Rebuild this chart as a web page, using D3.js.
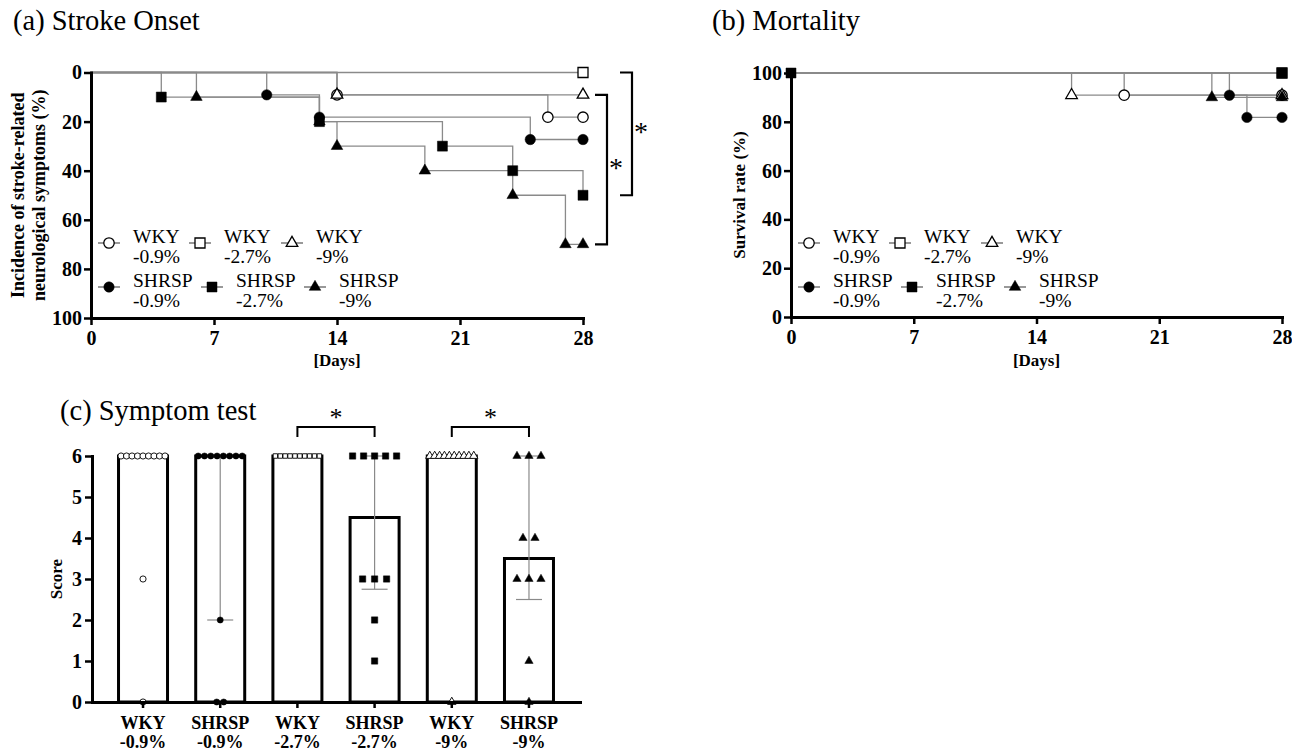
<!DOCTYPE html>
<html>
<head>
<meta charset="utf-8">
<title>Stroke onset, mortality and symptom test</title>
<script src="https://d3js.org/d3.v7.min.js"></script>
<style>
  body { margin: 0; background: #fff; }
  svg { display: block; font-family: "Liberation Serif", "Times New Roman", serif; }
</style>
</head>
<body>
<svg id="svg" width="1292" height="753"></svg>
<script>
// groups (legend order)
var strains = ["WKY", "WKY", "WKY", "SHRSP", "SHRSP", "SHRSP"];
var diets = ["-0.9%", "-2.7%", "-9%", "-0.9%", "-2.7%", "-9%"];
var shapes = ["circle", "square", "triangle", "circle", "square", "triangle"];
var filled = [false, false, false, true, true, true];

// (a) stroke onset: incidence (%) at marked days [day, %]
var onsetWKY09 = [[14, 9.1], [26, 18.2], [28, 18.2]];
var onsetWKY27 = [[28, 0]];
var onsetWKY9 = [[14, 9.1], [28, 9.1]];
var onsetSHR09 = [[10, 9.1], [13, 18.2], [25, 27.3], [28, 27.3]];
var onsetSHR27 = [[4, 10], [13, 20], [20, 30], [24, 40], [28, 50]];
var onsetSHR9 = [[6, 10], [13, 20], [14, 30], [19, 40], [24, 50], [27, 70], [28, 70]];
var onsetData = [onsetWKY09, onsetWKY27, onsetWKY9, onsetSHR09, onsetSHR27, onsetSHR9];
var onsetTicks = [0, 20, 40, 60, 80, 100];
var onsetSig = [[0, 50], [9.1, 70]]; // end values of the * brackets

// (b) mortality: survival (%) at marked days
var survWKY09 = [[19, 90.9], [28, 90.9]];
var survWKY27 = [[28, 100]];
var survWKY9 = [[16, 90.9], [28, 90.9]];
var survSHR09 = [[25, 90.9], [26, 81.8], [28, 81.8]];
var survSHR27 = [[0, 100], [28, 100]];
var survSHR9 = [[24, 90], [28, 90]];
var survData = [survWKY09, survWKY27, survWKY9, survSHR09, survSHR27, survSHR9];
var survTicks = [0, 20, 40, 60, 80, 100];
var dayTicks = [0, 7, 14, 21, 28];

// (c) symptom test scores
var scoreWKY09 = [6, 6, 6, 6, 6, 6, 6, 6, 6, 3, 0];
var scoreSHR09 = [6, 6, 6, 6, 6, 6, 6, 6, 2, 0, 0];
var scoreWKY27 = [6, 6, 6, 6, 6, 6, 6, 6, 6, 6];
var scoreSHR27 = [6, 6, 6, 6, 6, 3, 3, 3, 2, 1];
var scoreWKY9 = [6, 6, 6, 6, 6, 6, 6, 6, 6, 6, 0];
var scoreSHR9 = [6, 6, 6, 4, 4, 3, 3, 3, 1, 0];
var scoreData = [scoreWKY09, scoreSHR09, scoreWKY27, scoreSHR27, scoreWKY9, scoreSHR9];
var scoreOrder = [0, 3, 1, 4, 2, 5]; // legend index of each bar
var scoreMedian = [6, 6, 6, 4.5, 6, 3.5];
var scoreQ1 = [6, 2, 6, 2.75, 6, 2.5];
var scoreQ3 = [6, 6, 6, 6, 6, 6];
var scoreTicks = [0, 1, 2, 3, 4, 5, 6];
var scoreSig = [[2, 3], [4, 5]];

var svg = d3.select("#svg");
var FONT = '"Liberation Serif", "Times New Roman", serif';
var LINE = "#8a8a8a";

var symbolTypes = { circle: d3.symbolCircle, square: d3.symbolSquare, triangle: d3.symbolTriangle };
var kmSizes = { circle: 85, square: 100, triangle: 58 };

function marker(g, shape, isFilled, x, y, size, sw) {
  g.append("path")
    .attr("d", d3.symbol(symbolTypes[shape], size)())
    .attr("transform", "translate(" + x + "," + y + ")")
    .attr("fill", isFilled ? "#000" : "#fff")
    .attr("stroke", "#000")
    .attr("stroke-width", isFilled ? 0.5 : (sw || 1.3));
}

function styleAxis(g) {
  g.attr("font-family", FONT).attr("font-size", 20).attr("font-weight", "bold");
  g.select(".domain").attr("stroke-width", 3).attr("stroke-linecap", "square");
  g.selectAll(".tick line").attr("stroke-width", 2.5);
  g.selectAll(".tick text").attr("fill", "#000");
}

function title(x, y, t) {
  svg.append("text").attr("x", x).attr("y", y).attr("font-size", 28.5).text(t);
}

function legend(x0, y0) {
  var g = svg.append("g");
  var cols = [[18, 109, 201], [18, 121, 224]];
  for (var i = 0; i < 6; i++) {
    var row = filled[i] ? 1 : 0;
    var sx = x0 + cols[row][i % 3], sy = y0 + row * 44;
    g.append("line").attr("x1", sx - 11).attr("x2", sx + 11).attr("y1", sy).attr("y2", sy)
      .attr("stroke", "#555").attr("stroke-width", 1.2);
    marker(g, shapes[i], filled[i], sx, sy, kmSizes[shapes[i]]);
    var t = g.append("text").attr("x", sx + 24).attr("y", sy).attr("font-size", 19.5);
    t.append("tspan").attr("x", sx + 24).attr("y", sy).text(strains[i]);
    t.append("tspan").attr("x", sx + 24).attr("y", sy + 20).text(diets[i]);
  }
}

function kmPanel(xs, ys, data, start, ticks) {
  var g = svg.append("g");
  var line = d3.line().x(function (d) { return xs(d[0]); }).y(function (d) { return ys(d[1]); })
    .curve(d3.curveStepAfter);
  data.forEach(function (pts) {
    g.append("path").attr("d", line([[0, start]].concat(pts)))
      .attr("fill", "none").attr("stroke", LINE).attr("stroke-width", 1.3);
  });
  data.forEach(function (pts, i) {
    pts.forEach(function (p) {
      marker(g, shapes[i], filled[i], xs(p[0]), ys(p[1]), kmSizes[shapes[i]]);
    });
  });
  var ya = svg.append("g").attr("transform", "translate(" + xs(0) + ",0)")
    .call(d3.axisLeft(ys).tickValues(ticks).tickSize(7).tickSizeOuter(0).tickPadding(2));
  styleAxis(ya);
  var xa = svg.append("g").attr("transform", "translate(0," + ys(start === 0 ? 100 : 0) + ")")
    .call(d3.axisBottom(xs).tickValues(dayTicks).tickSize(7).tickSizeOuter(0).tickPadding(6));
  styleAxis(xa);
  svg.append("text").attr("x", (xs(0) + xs(28)) / 2).attr("y", 366)
    .attr("text-anchor", "middle").attr("font-weight", "bold").attr("font-size", 17).text("[Days]");
}

// ---------- (a) Stroke Onset ----------
var xA = d3.scaleLinear().domain([0, 28]).range([91, 583]);
var yA = d3.scaleLinear().domain([0, 100]).range([72.5, 318]);
title(13, 30, "(a) Stroke Onset");
kmPanel(xA, yA, onsetData, 0, onsetTicks);
legend(91, 243);
var yl = svg.append("text").attr("transform", "translate(24," + (72.5 + 318) / 2 + ") rotate(-90)")
  .attr("text-anchor", "middle").attr("font-weight", "bold").attr("font-size", 18);
yl.append("tspan").attr("x", 0).attr("y", 0).text("Incidence of stroke-related");
yl.append("tspan").attr("x", 0).attr("y", 21).text("neurological symptoms (%)");

onsetSig.forEach(function (s, i) {
  var bx = [632, 607][i];
  svg.append("path")
    .attr("d", "M" + (bx - 12) + "," + yA(s[0]) + "H" + bx + "V" + yA(s[1]) + "H" + (bx - 12))
    .attr("fill", "none").attr("stroke", "#000").attr("stroke-width", 2.2);
  svg.append("text").attr("x", bx + 2).attr("y", (yA(s[0]) + yA(s[1])) / 2 + 7)
    .attr("font-size", 28).text("*");
});

// ---------- (b) Mortality ----------
var xB = d3.scaleLinear().domain([0, 28]).range([791, 1282]);
var yB = d3.scaleLinear().domain([0, 100]).range([317, 73]);
title(712, 30, "(b) Mortality");
kmPanel(xB, yB, survData, 100, survTicks);
legend(791, 243);
svg.append("text").attr("transform", "translate(745," + (73 + 317) / 2 + ") rotate(-90)")
  .attr("text-anchor", "middle").attr("font-weight", "bold").attr("font-size", 17)
  .text("Survival rate (%)");

// ---------- (c) Symptom test ----------
title(60, 420, "(c) Symptom test");
var barIds = d3.range(6);
var xC = d3.scaleBand().domain(barIds).range([92, 580]).paddingInner(0).paddingOuter(0.161);
var yC = d3.scaleLinear().domain([0, 6]).range([702, 456]);
var barW = 49;
var gc = svg.append("g");

gc.selectAll("rect.bar").data(scoreMedian).enter().append("rect")
  .attr("x", function (d, i) { return xC(i) + xC.bandwidth() / 2 - barW / 2; })
  .attr("y", function (d) { return yC(d); })
  .attr("width", barW)
  .attr("height", function (d) { return yC(0) - yC(d); })
  .attr("fill", "#fff").attr("stroke", "#000").attr("stroke-width", 3);

barIds.forEach(function (i) {
  var cx = xC(i) + xC.bandwidth() / 2;
  if (scoreQ1[i] < scoreQ3[i]) {
    gc.append("line").attr("x1", cx).attr("x2", cx).attr("y1", yC(scoreQ1[i])).attr("y2", yC(scoreQ3[i]))
      .attr("stroke", LINE).attr("stroke-width", 1.2);
    [scoreQ1[i], scoreQ3[i]].forEach(function (v) {
      gc.append("line").attr("x1", cx - 13).attr("x2", cx + 13).attr("y1", yC(v)).attr("y2", yC(v))
        .attr("stroke", LINE).attr("stroke-width", 1.2);
    });
  }
});

var cSizes = { circle: 30, square: 40, triangle: 30 };
barIds.forEach(function (i) {
  var cx = xC(i) + xC.bandwidth() / 2;
  var k = scoreOrder[i];
  var counts = d3.rollup(scoreData[i], function (v) { return v.length; }, function (d) { return d; });
  counts.forEach(function (n, v) {
    var sp = n > 1 ? Math.min(12, 44 / (n - 1)) : 0;
    if (v === 0) sp = Math.min(sp, 7);
    for (var j = 0; j < n; j++) {
      var size = cSizes[shapes[k]];
      if (!filled[k] && shapes[k] === "square") size = 20;
      marker(gc, shapes[k], filled[k], cx + (j - (n - 1) / 2) * sp, yC(v), size, 0.9);
    }
  });
});

var yc = svg.append("g").attr("transform", "translate(92,0)")
  .call(d3.axisLeft(yC).tickValues(scoreTicks).tickFormat(d3.format("d"))
    .tickSize(7).tickSizeOuter(0).tickPadding(3));
styleAxis(yc);
var xc = svg.append("g").attr("transform", "translate(0,702)")
  .call(d3.axisBottom(xC).tickSize(6).tickSizeOuter(0).tickFormat(""));
styleAxis(xc);

barIds.forEach(function (i) {
  var cx = xC(i) + xC.bandwidth() / 2;
  var k = scoreOrder[i];
  var t = svg.append("text").attr("text-anchor", "middle").attr("font-weight", "bold").attr("font-size", 18);
  t.append("tspan").attr("x", cx).attr("y", 729).text(strains[k]);
  t.append("tspan").attr("x", cx).attr("y", 748).text(diets[k]);
});

svg.append("text").attr("transform", "translate(62," + yC(3) + ") rotate(-90)")
  .attr("text-anchor", "middle").attr("font-weight", "bold").attr("font-size", 17).text("Score");

scoreSig.forEach(function (s) {
  var x1 = xC(s[0]) + xC.bandwidth() / 2, x2 = xC(s[1]) + xC.bandwidth() / 2;
  svg.append("path").attr("d", "M" + x1 + ",437V427H" + x2 + "V437")
    .attr("fill", "none").attr("stroke", "#000").attr("stroke-width", 2);
  svg.append("text").attr("x", (x1 + x2) / 2).attr("y", 426).attr("text-anchor", "middle")
    .attr("font-size", 26).text("*");
});
</script>
</body>
</html>
